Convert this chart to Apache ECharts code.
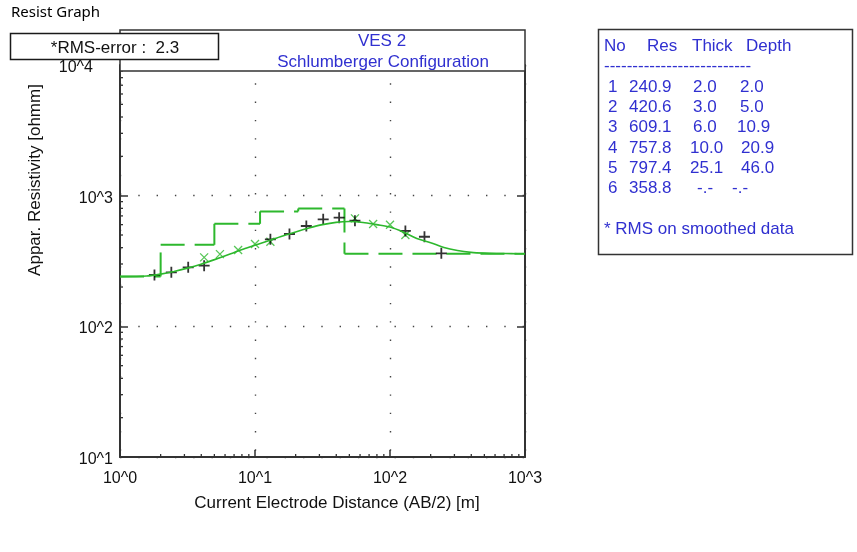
<!DOCTYPE html>
<html>
<head>
<meta charset="utf-8">
<script src="https://cdn.jsdelivr.net/npm/echarts@6/dist/echarts.min.js"></script>
<style>
html, body { margin: 0; padding: 0; background: #fff; }
#main { width: 857px; height: 552px; }
</style>
</head>
<body>
<div id="main"></div>
<script>
// Layered earth model (VES 2)
const layerNo = [1, 2, 3, 4, 5, 6];
const layerRes = [240.9, 420.6, 609.1, 757.8, 797.4, 358.8];
const layerThick = [2.0, 3.0, 6.0, 10.0, 25.1];
const layerDepth = [2.0, 5.0, 10.9, 20.9, 46.0];
const rmsError = 2.3;

// Computed apparent resistivity of the model
const modelAB = [1, 1.58, 2.0, 2.51, 3.16, 3.98, 5.01, 6.31, 7.94, 10, 12.6, 15.8, 20.0, 25.1, 31.6,
  39.8, 50.1, 63.1, 79.4, 100, 126, 158, 200, 251, 316, 398, 501, 631, 794, 1000];
const modelRho = [240, 243, 251, 263, 279, 299, 324, 353, 385, 417, 452, 490, 527, 565, 600,
  625, 634, 624, 600, 575, 525, 470, 437, 401, 380, 368, 363, 361, 360, 359];

// Field measurements
const obsAB = [1.8, 2.4, 3.2, 4.2, 13, 18, 24, 32, 42, 55, 130, 180, 240];
const obsRho = [247, 259, 283, 291, 463, 509, 586, 659, 678, 643, 537, 485, 362];

// Smoothed measurements
const smoothAB = [4.2, 5.5, 7.5, 10, 13, 55, 75, 100, 130];
const smoothRho = [337, 357, 384, 427, 444, 670, 607, 599, 500];

// Axis labelling
const xTickLabels = ['10^0', '10^1', '10^2', '10^3'];
const yTickLabels = ['10^1', '10^2', '10^3', '10^4'];
const xMinorTicks = [2, 3, 4, 5, 6, 7, 8, 9, 20, 30, 40, 50, 60, 70, 80, 90, 200, 300, 400, 500, 600, 700, 800, 900];
const yMinorTicks = [20, 30, 40, 50, 60, 70, 80, 90, 200, 300, 400, 500, 600, 700, 800, 900,
  2000, 3000, 4000, 5000, 6000, 7000, 8000, 9000];

const GREEN = '#2db82d';
const BLUE = '#3030d0';
const FRAME = '#333333';
const ARIAL = '"Liberation Sans", Arial, sans-serif';

// Step outline of the layered model: one segment per edge, in path order
const stepSegments = [];
(function () {
  let xStart = 1;
  for (let i = 0; i < layerRes.length; i++) {
    const xEnd = i < layerDepth.length ? layerDepth[i] : 1000;
    stepSegments.push([xStart, layerRes[i], xEnd, layerRes[i]]);
    if (i < layerDepth.length) {
      stepSegments.push([xEnd, layerRes[i], xEnd, layerRes[i + 1]]);
    }
    xStart = xEnd;
  }
})();

const chart = echarts.init(document.getElementById('main'), null, { renderer: 'canvas' });

const logIdx = v => Math.round(Math.log10(v));

const baseAxisLine = { show: true, onZero: false, lineStyle: { color: FRAME, width: 2 } };
const dotted = { show: true, lineStyle: { color: '#444', width: 1.4, type: [1.4, 16.9] } };

const textEl = (x, y, text, opt) => Object.assign({
  type: 'text', x: x, y: y, z: 100,
  style: Object.assign({ text: text, fill: '#111', font: '16px ' + ARIAL, textVerticalAlign: 'middle' }, opt || {})
});

const graphics = [];
graphics.push(textEl(11, 13, 'Resist Graph', { font: '15px "Noto Sans", sans-serif', fill: '#000' }));
// Title box above the plot
graphics.push({ type: 'rect', z: 90, shape: { x: 120, y: 30, width: 405, height: 41 },
  style: { fill: '#fff', stroke: FRAME, lineWidth: 1.5 } });
graphics.push(textEl(382, 41, 'VES 2', { font: '17px ' + ARIAL, fill: BLUE, textAlign: 'center' }));
graphics.push(textEl(383, 62, 'Schlumberger Configuration', { font: '17px ' + ARIAL, fill: BLUE, textAlign: 'center' }));
// RMS box
graphics.push({ type: 'rect', z: 95, shape: { x: 10.5, y: 33.5, width: 208, height: 26 },
  style: { fill: '#fff', stroke: '#1a1a1a', lineWidth: 1.5 } });
graphics.push(textEl(115, 48, '*RMS-error :  ' + rmsError.toFixed(1), { font: '17px ' + ARIAL, textAlign: 'center', fill: '#111' }));
// Top decade label, drawn clear of the RMS box
graphics.push(textEl(93, 68, yTickLabels[3], { font: '16px ' + ARIAL, textAlign: 'right', fill: '#111' }));
// Axis titles
graphics.push(textEl(337, 503, 'Current Electrode Distance (AB/2) [m]', { font: '17px ' + ARIAL, textAlign: 'center', fill: '#111' }));
graphics.push(Object.assign(textEl(35, 180, 'Appar. Resistivity [ohmm]', { font: '17px ' + ARIAL, textAlign: 'center', fill: '#111' }), { rotation: Math.PI / 2 }));

// Layer table
graphics.push({ type: 'rect', z: 90, shape: { x: 598.5, y: 29.5, width: 254, height: 225 },
  style: { fill: '#fff', stroke: FRAME, lineWidth: 1.5 } });
const tblFont = '17px ' + ARIAL;
graphics.push(textEl(604, 46, 'No', { font: tblFont, fill: BLUE }));
graphics.push(textEl(647, 46, 'Res', { font: tblFont, fill: BLUE }));
graphics.push(textEl(692, 46, 'Thick', { font: tblFont, fill: BLUE }));
graphics.push(textEl(746, 46, 'Depth', { font: tblFont, fill: BLUE }));
graphics.push(textEl(604, 66, '-'.repeat(26), { font: tblFont, fill: BLUE }));
const thickX = [693, 693, 693, 690, 690, 697];
const depthX = [740, 740, 737, 741, 741, 732];
layerNo.forEach((n, i) => {
  const y = 87 + i * 20.3;
  graphics.push(textEl(608, y, String(n), { font: tblFont, fill: BLUE }));
  graphics.push(textEl(629, y, layerRes[i].toFixed(1), { font: tblFont, fill: BLUE }));
  const th = i < layerThick.length ? layerThick[i].toFixed(1) : '-.-';
  const dp = i < layerDepth.length ? layerDepth[i].toFixed(1) : '-.-';
  graphics.push(textEl(thickX[i], y, th, { font: tblFont, fill: BLUE }));
  graphics.push(textEl(depthX[i], y, dp, { font: tblFont, fill: BLUE }));
});
graphics.push(textEl(604, 229, '* RMS on smoothed data', { font: tblFont, fill: BLUE }));

const option = {
  animation: false,
  backgroundColor: '#fff',
  grid: { left: 120, right: 332, top: 65, bottom: 95, containLabel: false },
  xAxis: {
    type: 'log', logBase: 10, min: 1, max: 1000,
    axisLine: baseAxisLine,
    axisTick: { show: true, inside: true, length: 7, lineStyle: { color: FRAME, width: 1.5 } },
    splitLine: dotted,
    axisLabel: {
      margin: 14, color: '#111', fontSize: 16, fontFamily: ARIAL,
      formatter: v => xTickLabels[logIdx(v)]
    }
  },
  yAxis: [{
    type: 'log', logBase: 10, min: 10, max: 10000,
    axisLine: baseAxisLine,
    axisTick: { show: true, inside: true, length: 8, lineStyle: { color: FRAME, width: 1.5 } },
    splitLine: dotted,
    axisLabel: {
      margin: 7, color: '#111', fontSize: 16, fontFamily: ARIAL,
      verticalAlign: 'top', lineHeight: 5,
      formatter: v => logIdx(v) === 4 ? '' : yTickLabels[logIdx(v) - 1]
    }
  }, {
    type: 'log', logBase: 10, min: 10, max: 10000, position: 'right',
    axisLine: baseAxisLine,
    axisTick: { show: true, inside: true, length: 8, lineStyle: { color: FRAME, width: 1.5 } },
    splitLine: { show: false },
    axisLabel: { show: false }
  }],
  graphic: graphics,
  series: [
    {
      name: 'minor-x', type: 'custom', coordinateSystem: 'cartesian2d', silent: true, clip: false,
      data: xMinorTicks.map(v => [v, 10]),
      renderItem: (params, api) => {
        const p = api.coord([api.value(0), api.value(1)]);
        return { type: 'line', shape: { x1: p[0], y1: p[1], x2: p[0], y2: p[1] - 3 },
          style: { stroke: FRAME, lineWidth: 1.3 } };
      }
    },
    {
      name: 'minor-y', type: 'custom', coordinateSystem: 'cartesian2d', silent: true, clip: false,
      data: yMinorTicks.map(v => [1, v]),
      renderItem: (params, api) => {
        const p = api.coord([api.value(0), api.value(1)]);
        return { type: 'line', shape: { x1: p[0], y1: p[1], x2: p[0] + 3, y2: p[1] },
          style: { stroke: FRAME, lineWidth: 1.3 } };
      }
    },
    {
      name: 'Layer model', type: 'custom', coordinateSystem: 'cartesian2d', silent: true,
      encode: { x: [0, 2], y: [1, 3] },
      data: stepSegments,
      renderItem: (params, api) => {
        const a = api.coord([api.value(0), api.value(1)]);
        const b = api.coord([api.value(2), api.value(3)]);
        return { type: 'line', shape: { x1: a[0], y1: a[1], x2: b[0], y2: b[1] },
          style: { stroke: GREEN, lineWidth: 2, lineDash: [24, 10] } };
      }
    },
    {
      name: 'Model curve', type: 'line', smooth: 0.3, symbol: 'none',
      data: modelAB.map((x, i) => [x, modelRho[i]]),
      lineStyle: { color: GREEN, width: 1.6 }
    },
    {
      name: 'Smoothed', type: 'scatter', symbol: 'path://M0,0L10,10M10,0L0,10', symbolSize: 8,
      data: smoothAB.map((x, i) => [x, smoothRho[i]]),
      itemStyle: { color: 'transparent', borderColor: GREEN, borderWidth: 1.3 }
    },
    {
      name: 'Observed', type: 'scatter', symbol: 'path://M5,0L5,10M0,5L10,5', symbolSize: 11,
      data: obsAB.map((x, i) => [x, obsRho[i]]),
      itemStyle: { color: 'transparent', borderColor: '#000', borderWidth: 1.8 }
    }
  ]
};
chart.setOption(option);
</script>
</body>
</html>
